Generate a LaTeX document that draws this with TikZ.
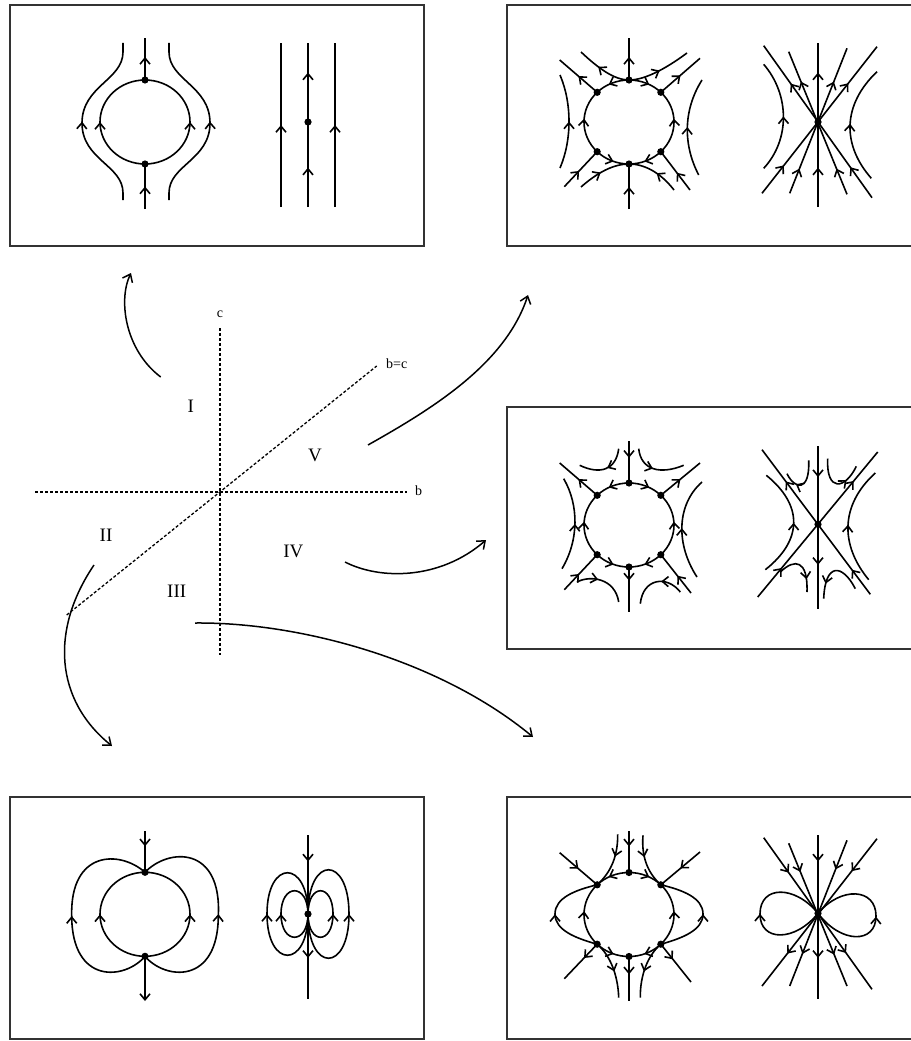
\documentclass[tikz,border=0pt]{standalone}
\usepackage{fontspec}
\setmainfont{Liberation Serif}
\usetikzlibrary{arrows.meta,decorations.markings,calc}
\tikzset{
 flow/.style={line width=1.6pt},
 mk/.style={postaction={decorate,decoration={markings,mark=at position #1 with {\arrow{Straight Barb[length=6pt,width=10pt]}}}}},
 panel/.style={draw=black!80,line width=1.3pt},
 dashline/.style={line width=1.3pt,dash pattern=on 3pt off 2pt},
 carrow/.style={line width=1.5pt,-{Straight Barb[length=7pt,width=11pt]}},
 el/.style={x radius=45,y radius=42},
 region/.style={font=\fontsize{19}{19}\selectfont,inner sep=0pt},
 axlab/.style={font=\fontsize{14}{14}\selectfont,inner sep=0pt},
}
\newcommand{\ringpts}[2]{%
 \coordinate (#1c) at #2;
 \coordinate (#1t) at ($(#1c)+(270:45 and 42)$);
 \coordinate (#1b) at ($(#1c)+(90:45 and 42)$);
 \coordinate (#1ul) at ($(#1c)+(225:45 and 42)$);
 \coordinate (#1ur) at ($(#1c)+(315:45 and 42)$);
 \coordinate (#1ll) at ($(#1c)+(135:45 and 42)$);
 \coordinate (#1lr) at ($(#1c)+(45:45 and 42)$);}
\newcommand{\sixarcs}[1]{%
 \draw[flow,mk=0.6] (#1t) arc[el,start angle=270,end angle=225];
 \draw[flow,mk=0.6] (#1t) arc[el,start angle=270,end angle=315];
 \draw[flow,mk=0.55] (#1ll) arc[el,start angle=135,end angle=225];
 \draw[flow,mk=0.55] (#1lr) arc[el,start angle=45,end angle=-45];
 \draw[flow,mk=0.55] (#1ll) arc[el,start angle=135,end angle=90];
 \draw[flow,mk=0.55] (#1lr) arc[el,start angle=45,end angle=90];
 \foreach \p in {t,b,ul,ur,ll,lr} \fill (#1\p) circle[radius=3.6pt];}
\begin{document}
\begin{tikzpicture}[x=1pt,y=-1pt]
\useasboundingbox (0,0) rectangle (910,1041);
% ---------- panels ----------
\draw[panel] (10,5) rectangle (424,246);
\draw[panel] (915,5) -- (507,5) -- (507,246) -- (915,246);
\draw[panel] (915,407) -- (507,407) -- (507,649) -- (915,649);
\draw[panel] (10,797) rectangle (424,1039);
\draw[panel] (915,797) -- (507,797) -- (507,1039) -- (915,1039);

% ---------- Panel 1 ----------
\ringpts{a}{(145,122)}
\draw[flow,mk=0.5] (ab) arc[el,start angle=90,end angle=270];
\draw[flow,mk=0.5] (ab) arc[el,start angle=90,end angle=-90];
\draw[flow,mk=0.5] (145,209) -- (ab);
\draw[flow,mk=0.55] (at) -- (145,38);
\fill (at) circle[radius=3.6pt]; \fill (ab) circle[radius=3.6pt];
\draw[flow,mk=0.5] (123,200) -- (123,193) .. controls (123,165) and (82,160) .. (82,123) .. controls (82,86) and (123,80) .. (123,52) -- (123,43);
\draw[flow,mk=0.5] (169,200) -- (169,193) .. controls (169,165) and (210,160) .. (210,123) .. controls (210,86) and (169,80) .. (169,52) -- (169,43);
\coordinate (a2c) at (308,122);
\draw[flow,mk=0.5] (281,207) -- (281,43);
\draw[flow,mk=0.24,mk=0.82] (308,207) -- (308,43);
\draw[flow,mk=0.5] (335,207) -- (335,43);
\fill (a2c) circle[radius=3.6pt];

% ---------- Panel 2 ----------
\ringpts{b}{(629,122)}
\draw[flow,mk=0.49] (629,209) -- (bb);
\draw[flow,mk=0.55] (bt) -- (629,38);
\draw[flow,mk=0.5] (bul) -- (559.7,60);
\draw[flow,mk=0.5] (bur) -- (700,58.3);
\draw[flow,mk=0.45] (564.3,186.7) -- (bll);
\draw[flow,mk=0.45] (690,190) -- (blr);
\draw[flow,mk=0.6] (bt) .. controls (614,80) and (598,68) .. (581,52);
\draw[flow,mk=0.5] (bt) .. controls (644,80) and (664,70) .. (687,53);
\draw[flow,mk=0.45] (581,187) .. controls (598,172) and (614,164) .. (bb);
\draw[flow,mk=0.45] (674,190) .. controls (660,172) and (644,164) .. (bb);
\draw[flow,mk=0.5] (560,168) .. controls (572,140) and (572,103) .. (560,75);
\draw[flow,mk=0.5] (698.7,175) .. controls (683,145) and (683,110) .. (702,80);
\sixarcs{b}
% right
\coordinate (b2c) at (818,122);
\draw[flow,mk=0.24,mk=0.82] (818,207) -- (818,43);
\draw[flow,mk=0.2,mk=0.75] (872,197.7) -- (763.7,45.7);
\draw[flow,mk=0.18,mk=0.79] (847,194.3) -- (788.7,51.7);
\draw[flow,mk=0.19,mk=0.75] (762,193.3) -- (877,46.7);
\draw[flow,mk=0.17,mk=0.77] (789.7,193.3) -- (847,48.3);
\draw[flow,mk=0.5] (763.7,168.3) .. controls (790,140) and (790,95) .. (763.7,64.3);
\draw[flow,mk=0.5] (871.3,178.3) .. controls (842,145) and (842,105) .. (877,71.7);
\fill (b2c) circle[radius=3.6pt];

% ---------- Panel 3 ----------
\ringpts{d}{(629,525)}
\draw[flow,mk=0.4] (629,441) -- (dt);
\draw[flow,mk=0.3] (db) -- (629,612);
\draw[flow,mk=0.5] (dul) -- (559.7,463);
\draw[flow,mk=0.5] (dur) -- (700,463);
\draw[flow,mk=0.45] (564.3,589.7) -- (dll);
\draw[flow,mk=0.45] (691,593) -- (dlr);
\draw[flow,mk=0.45] (618.7,448.7) .. controls (616,470) and (600,475) .. (579.7,465.3);
\draw[flow,mk=0.45] (638.7,448.7) .. controls (641,470) and (660,475) .. (683.7,465.3);
\draw[flow,mk=0.4] (577,582) .. controls (590,575) and (615,578) .. (618.7,602);
\draw[flow,mk=0.4] (680.3,592) .. controls (667,575) and (643,578) .. (640.3,603.7);
\draw[flow,mk=0.5] (562,568.7) .. controls (579,540) and (579,505) .. (563.7,478.7);
\draw[flow,mk=0.5] (697,577) .. controls (676,545) and (676,505) .. (702,482);
\sixarcs{d}
% right
\coordinate (d2c) at (818,524.3);
\draw[flow,mk=0.19,mk=0.73] (818,446.3) -- (818,608.7);
\draw[flow,mk=0.17,mk=0.78] (870.3,594.3) -- (762,449.7);
\draw[flow,mk=0.2,mk=0.8] (757.7,597) -- (877.7,452);
\draw[flow,mk=0.5] (765.3,569.7) .. controls (803,540) and (803,505) .. (766.3,475.3);
\draw[flow,mk=0.5] (868.7,579.7) .. controls (840,545) and (840,505) .. (875.3,473);
\draw[flow,mk=0.7] (808.7,460.3) .. controls (810,492) and (795,490) .. (787,473.7);
\draw[flow,mk=0.7] (827.7,458.7) .. controls (826,492) and (845,490) .. (856.3,466.3);
\draw[flow,mk=0.75] (780.3,572) .. controls (795,558) and (808,560) .. (807,592);
\draw[flow,mk=0.75] (855.3,588.7) .. controls (842,563) and (825,563) .. (823.7,598.7);
\fill (d2c) circle[radius=3.6pt];

% ---------- Panel 4 ----------
\ringpts{e}{(145,914.3)}
\draw[flow,mk=0.5] (eb) arc[el,start angle=90,end angle=270];
\draw[flow,mk=0.5] (eb) arc[el,start angle=90,end angle=-90];
\draw[flow,mk=0.37] (145,831) -- (et);
\draw[flow,-{Straight Barb[length=6pt,width=10pt]}] (eb) -- (145,1001);
\draw[flow,mk=0.5] (eb) .. controls (125,980) and (72,985) .. (71.7,916) .. controls (70,850) and (120,850) .. (et);
\draw[flow,mk=0.5] (eb) .. controls (165,980) and (218,985) .. (218.3,916) .. controls (222,845) and (168,848) .. (et);
\fill (et) circle[radius=3.6pt]; \fill (eb) circle[radius=3.6pt];
% right
\coordinate (e2c) at (308,914);
\draw[flow,mk=0.16,mk=0.75] (308,835.3) -- (308,998.7);
\draw[flow,mk=0.5] (e2c) .. controls (308,969) and (267,969) .. (267,914) .. controls (267,859) and (308,859) .. (e2c);
\draw[flow,mk=0.5] (e2c) .. controls (308,945) and (281,945) .. (281,914) .. controls (281,883) and (308,883) .. (e2c);
\draw[flow,mk=0.5] (e2c) .. controls (308,973) and (349,973) .. (349,914) .. controls (349,855) and (308,855) .. (e2c);
\draw[flow,mk=0.5] (e2c) .. controls (308,945) and (333,945) .. (333,914) .. controls (333,883) and (308,883) .. (e2c);
\fill (e2c) circle[radius=3.6pt];

% ---------- Panel 5 ----------
\ringpts{f}{(629,914.5)}
\draw[flow,mk=0.37] (629,831) -- (ft);
\draw[flow,mk=0.4] (fb) -- (629,1001);
\draw[flow,mk=0.5] (559.7,852.7) -- (ful);
\draw[flow,mk=0.5] (700,852) -- (fur);
\draw[flow,mk=0.4] (fll) -- (564.3,978.7);
\draw[flow,mk=0.4] (flr) -- (691,982);
\draw[flow,mk=0.4] (617.7,834.3) .. controls (618,860) and (608,875) .. (ful);
\draw[flow,mk=0.4] (643,835.3) .. controls (641,860) and (650,875) .. (fur);
\draw[flow,mk=0.55] (fll) .. controls (610,955) and (618,975) .. (618.7,997.7);
\draw[flow,mk=0.55] (flr) .. controls (648,955) and (640,975) .. (640.3,997.7);
\draw[flow,mk=0.5] (fll) .. controls (575,938) and (555,930) .. (555,914) .. controls (555,898) and (575,890) .. (ful);
\draw[flow,mk=0.5] (flr) .. controls (683,938) and (703,930) .. (703,914) .. controls (703,898) and (683,890) .. (fur);
\sixarcs{f}
% right
\coordinate (f2c) at (818,913.3);
\draw[flow,mk=0.16,mk=0.75] (818,835.3) -- (818,998.7);
\draw[flow,mk=0.23,mk=0.76] (763.7,837.7) -- (872,989.3);
\draw[flow,mk=0.2,mk=0.78] (788.7,843.3) -- (847,986);
\draw[flow,mk=0.22,mk=0.78] (877,838.7) -- (762,986);
\draw[flow,mk=0.2,mk=0.78] (847,840.3) -- (789.7,986);
\draw[flow,mk=0.5] (f2c) .. controls (795,942) and (760,942) .. (760,914) .. controls (760,885) and (795,885) .. (f2c);
\draw[flow,mk=0.5] (f2c) .. controls (841,944) and (876,944) .. (876,916) .. controls (876,888) and (841,886) .. (f2c);
\fill (f2c) circle[radius=3.6pt];

% ---------- parameter plane ----------
\draw[dashline] (220,328) -- (220,655);
\draw[dashline] (35,492) -- (407,492);
\draw[dashline] (66.7,615) -- (376.7,366);
\node[axlab] (lc) at (220,314) {c};
\node[axlab] (lb) at (418.5,491) {b};
\node[axlab] (lbc) at (396.7,363.5) {b=c};
\node[region] (r1) at (190.7,406.5) {I};
\node[region] (r5) at (315,455) {V};
\node[region] (r2) at (106,535) {II};
\node[region] (r4) at (293.3,551.5) {IV};
\node[region] (r3) at (176.7,591.5) {III};
% connectors
\coordinate (s1) at (160.7,377); \coordinate (t1) at (131,273);
\coordinate (s2) at (368,445); \coordinate (t2) at (528,295);
\coordinate (s3) at (345,562); \coordinate (t3) at (486,540);
\coordinate (s4) at (195,623); \coordinate (t4) at (533,737);
\coordinate (s5) at (94,565); \coordinate (t5) at (112,746);
\draw[carrow] (s1) .. controls (125,350) and (118,300) .. (t1);
\draw[carrow] (s2) .. controls (430,410) and (505,365) .. (t2);
\draw[carrow] (s3) .. controls (380,580) and (440,580) .. (t3);
\draw[carrow] (s4) .. controls (300,622) and (440,660) .. (t4);
\draw[carrow] (s5) .. controls (50,630) and (55,700) .. (t5);
\end{tikzpicture}
\end{document}
